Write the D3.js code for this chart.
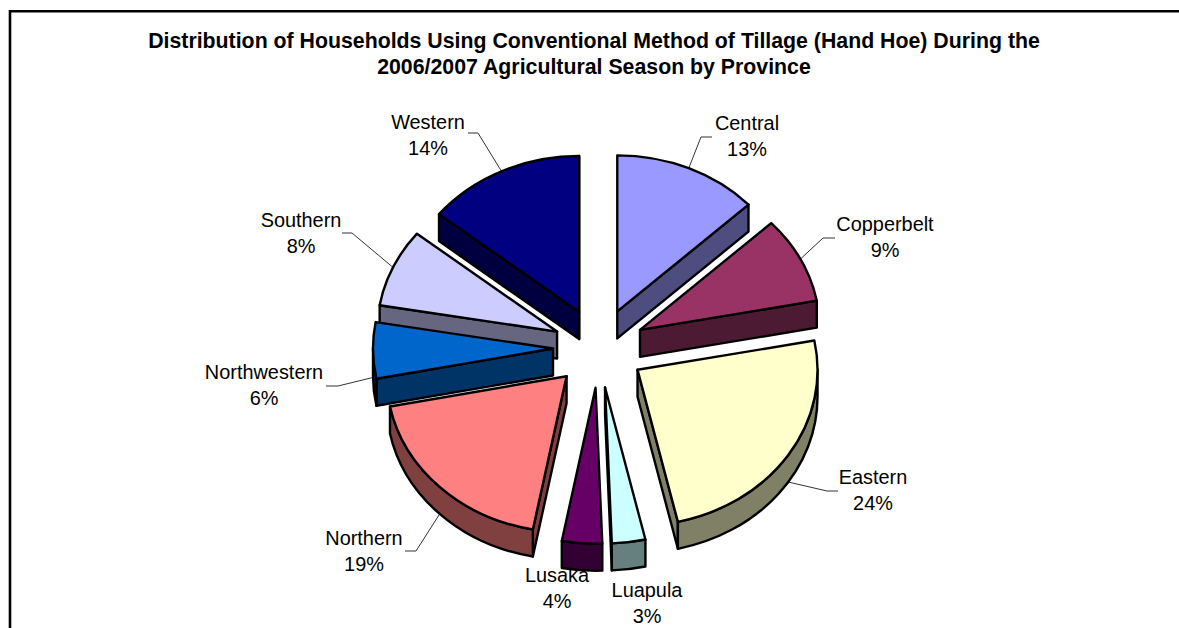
<!DOCTYPE html>
<html>
<head>
<meta charset="utf-8">
<script src="https://cdn.jsdelivr.net/npm/d3@7"></script>
<style>
  html, body { margin: 0; padding: 0; background: #fff; overflow: hidden; }
  svg { display: block; }
  text { font-family: "Liberation Sans", Arial, sans-serif; fill: #000; }
</style>
</head>
<body>
<svg id="chart" width="1179" height="628"></svg>
<script>
// Share of households (labels are the rounded values)
const provinces = ["Central", "Copperbelt", "Eastern", "Luapula", "Lusaka", "Northern", "Northwestern", "Southern", "Western"];
const shares = [13.0, 9.0, 24.4, 3.0, 3.6, 18.9, 5.8, 8.1, 14.2];
const sliceColors = ["#9999FF", "#993366", "#FFFFCC", "#CCFFFF", "#660066", "#FF8080", "#0066CC", "#CCCCFF", "#000080"];
const titleLines = [
    "Distribution of Households Using Conventional Method of Tillage (Hand Hoe) During the",
    "2006/2007 Agricultural Season by Province"
];

// Layout only
const cx = 599, cy = 348;
const rx = 180, squash = 156 / 180, depth = 27, explode = 46;
const labelCenters = {
    Central: [747, 123], Copperbelt: [885, 224], Eastern: [873, 477],
    Luapula: [647, 590], Lusaka: [557, 575], Northern: [364, 538],
    Northwestern: [264, 372], Southern: [301, 220], Western: [428, 122]
};
// [elbow, end] of each leader line, Lusaka and Luapula have none
const leaderEnds = {
    Central: [[701, 137], [712, 137]], Copperbelt: [[823, 238], [835, 238]],
    Eastern: [[827, 491], [838, 491]], Northern: [[416, 551], [405, 551]],
    Northwestern: [[338, 386], [326, 386]], Southern: [[352, 233], [342, 233]],
    Western: [[478, 133], [468, 133]]
};

const svg = d3.select("#chart");

// frame: top and left only, the crop cuts the rest
svg.append("path")
    .attr("d", "M10,628V11.3H1179")
    .attr("fill", "none")
    .attr("stroke", "#000")
    .attr("stroke-width", 2.6);

const title = svg.append("text")
    .attr("text-anchor", "middle")
    .attr("font-weight", "bold")
    .attr("font-size", 21.3);
titleLines.forEach((t, i) => {
    title.append("tspan").attr("x", 594).attr("y", 47.5 + i * 26).text(t);
});

const pie = d3.pie().sort(null).value(d => d.share);
const slices = pie(provinces.map((name, i) => ({ name, share: shares[i], color: sliceColors[i] })));

const topArc = d3.arc().innerRadius(0).outerRadius(rx);

// point on the rim for a pie angle (0 = up, clockwise), relative to the slice apex
const rimPoint = a => [rx * Math.sin(a), -rx * squash * Math.cos(a)];

slices.forEach(s => {
    const mid = (s.startAngle + s.endAngle) / 2;
    s.apex = [cx + explode * Math.sin(mid), cy - explode * squash * Math.cos(mid)];
    s.mid = mid;
});

// labels sit under the pie, the Lusaka label gets clipped by its slice in the original
const labels = svg.append("g");
slices.forEach(s => {
    const [lx, ly] = labelCenters[s.data.name];
    const t = labels.append("text").attr("text-anchor", "middle").attr("font-size", 19.9);
    t.append("tspan").attr("x", lx).attr("y", ly + 7).text(s.data.name);
    t.append("tspan").attr("x", lx).attr("y", ly + 33).text(Math.round(s.data.share) + "%");

    const ends = leaderEnds[s.data.name];
    if (!ends) return;
    const p = rimPoint(s.mid);
    // front slices: the leader starts at the bottom of the wall
    const drop = Math.cos(s.mid) < 0 ? depth : 0;
    labels.append("path")
        .attr("d", d3.line()([[s.apex[0] + p[0], s.apex[1] + p[1] + drop], ...ends]))
        .attr("fill", "none")
        .attr("stroke", "#333")
        .attr("stroke-width", 1);
});

function wallColor(c) {
    const r = d3.rgb(c);
    return d3.rgb(r.r / 2, r.g / 2, r.b / 2).formatHex();
}

// outer wall between two pie angles, as an elliptical strip
function rimWall(s, a0, a1) {
    const p0 = rimPoint(a0), p1 = rimPoint(a1);
    const ry = rx * squash;
    const x = s.apex[0], y = s.apex[1];
    return `M${x + p0[0]},${y + p0[1]}` +
        `A${rx},${ry} 0 0 1 ${x + p1[0]},${y + p1[1]}` +
        `v${depth}` +
        `A${rx},${ry} 0 0 0 ${x + p0[0]},${y + p0[1] + depth}Z`;
}

function cutFace(s, a) {
    const p = rimPoint(a);
    const x = s.apex[0], y = s.apex[1];
    return d3.line()([[x, y], [x + p[0], y + p[1]], [x + p[0], y + p[1] + depth], [x, y + depth]]) + "Z";
}

// back slices first so the front ones cover them
const ordered = slices.slice().sort((a, b) => a.apex[1] - b.apex[1]);
const pieLayer = svg.append("g");

ordered.forEach(s => {
    const g = pieLayer.append("g");
    const side = wallColor(s.data.color);
    const a0 = s.startAngle, a1 = s.endAngle;

    const addSide = d => g.append("path")
        .attr("d", d)
        .attr("fill", side)
        .attr("stroke", "#000")
        .attr("stroke-width", 2.4)
        .attr("stroke-linejoin", "round");

    if (Math.sin(a0) < 0) addSide(cutFace(s, a0));
    if (Math.sin(a1) > 0) addSide(cutFace(s, a1));

    const w0 = Math.max(a0, Math.PI / 2), w1 = Math.min(a1, 3 * Math.PI / 2);
    if (w1 > w0) addSide(rimWall(s, w0, w1));

    g.append("path")
        .attr("d", topArc(s))
        .attr("transform", `translate(${s.apex[0]},${s.apex[1]}) scale(1,${squash})`)
        .attr("vector-effect", "non-scaling-stroke")
        .attr("fill", s.data.color)
        .attr("stroke", "#000")
        .attr("stroke-width", 2.4)
        .attr("stroke-linejoin", "round");
});
</script>
</body>
</html>
